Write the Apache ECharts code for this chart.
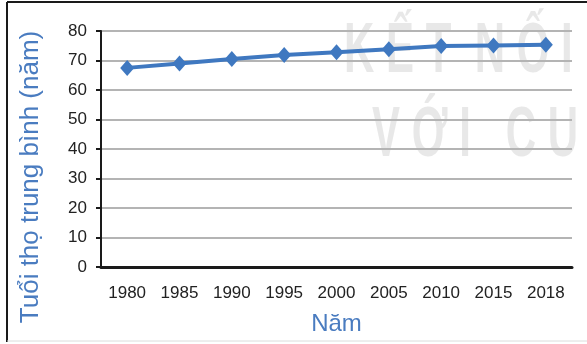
<!DOCTYPE html>
<html>
<head>
<meta charset="utf-8">
<script src="https://cdn.jsdelivr.net/npm/echarts@6/dist/echarts.min.js"></script>
<style>
  html, body { margin: 0; padding: 0; background: #fff; }
  #chart { width: 587px; height: 344px; }
</style>
</head>
<body>
<div id="chart"></div>
<script>
  // dữ liệu
  var years = ["1980", "1985", "1990", "1995", "2000", "2005", "2010", "2015", "2018"];
  var lifeExp = [67.5, 69, 70.5, 71.9, 72.8, 73.8, 74.9, 75.1, 75.3];
  var yTicks = [0, 10, 20, 30, 40, 50, 60, 70, 80];

  var myChart = echarts.init(document.getElementById("chart"));

  var wmFont = "bold 70px 'Liberation Sans', Arial";
  var wmColor = "rgba(185,185,185,0.32)";

  var option = {
    animation: false,
    graphic: [
      // khung ngoài
      { type: "line", shape: { x1: 7, y1: 2, x2: 587, y2: 2 }, style: { stroke: "#1a1a1a", lineWidth: 2 }, z: 0 },
      { type: "line", shape: { x1: 7, y1: 2, x2: 7, y2: 342 }, style: { stroke: "#1a1a1a", lineWidth: 2 }, z: 0 },
      { type: "line", shape: { x1: 7, y1: 341, x2: 587, y2: 341 }, style: { stroke: "#dcdcdc", lineWidth: 1 }, z: 0 },
      // watermark
      {
        type: "text", x: 344, y: 18, scaleX: 0.6, scaleY: 1,
        style: { text: "K Ế T  N Ố I", font: wmFont, fill: wmColor },
        z: 0
      },
      {
        type: "text", x: 372, y: 102, scaleX: 0.6, scaleY: 1,
        style: { text: "V Ớ I   C U", font: wmFont, fill: wmColor },
        z: 0
      }
    ],
    grid: {
      left: 101,
      right: 15,
      top: 31,
      bottom: 77
    },
    xAxis: {
      type: "category",
      data: years,
      boundaryGap: true,
      name: "Năm",
      nameLocation: "middle",
      nameGap: 45,
      nameTextStyle: { color: "#4a7cc0", fontSize: 24, fontFamily: "Liberation Sans" },
      axisLine: { lineStyle: { color: "#1a1a1a", width: 3 } },
      axisTick: { alignWithLabel: true, length: 4, lineStyle: { color: "#1a1a1a", width: 2 } },
      axisLabel: { color: "#222", fontSize: 17, fontFamily: "Liberation Sans", margin: 18 },
      splitLine: { show: false }
    },
    yAxis: {
      type: "value",
      min: 0,
      max: 80,
      interval: 10,
      name: "Tuổi thọ trung bình (năm)",
      nameLocation: "middle",
      nameGap: 57,
      nameTextStyle: {
        color: "#4a7cc0", fontSize: 26, fontFamily: "Liberation Sans",
        padding: [0, 56, 0, 0]
      },
      axisLine: { show: true, lineStyle: { color: "#1a1a1a", width: 2 } },
      axisTick: { show: true, length: 5, lineStyle: { color: "#1a1a1a", width: 2 } },
      axisLabel: {
        color: "#222", fontSize: 17, fontFamily: "Liberation Sans", margin: 14,
        formatter: function (v) { return yTicks.indexOf(v) >= 0 ? String(v) : ""; }
      },
      splitLine: { lineStyle: { color: "#b4b4b4", width: 2 } }
    },
    series: [
      {
        name: "Tuổi thọ",
        type: "line",
        data: lifeExp,
        symbol: "diamond",
        symbolSize: [14, 16],
        lineStyle: { color: "#3f78c0", width: 4 },
        itemStyle: { color: "#3f78c0" },
        z: 5
      }
    ]
  };

  myChart.setOption(option);
  window.addEventListener("resize", function () {
    myChart.resize();
  });
</script>
</body>
</html>
